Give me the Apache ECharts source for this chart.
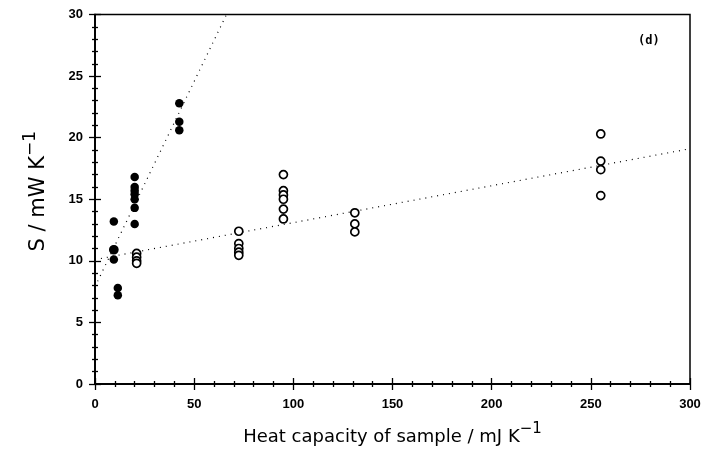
<!DOCTYPE html>
<html>
<head>
<meta charset="utf-8">
<script src="https://cdn.jsdelivr.net/npm/echarts@6/dist/echarts.min.js"></script>
<style>html,body{margin:0;padding:0;background:#fff}#c{width:705px;height:451px}</style>
</head>
<body>
<div id="c"></div>
<script>
// Closed circles
var filledX = [9.5, 9.5, 9.5, 11.5, 11.5, 20, 20, 20, 20, 20, 20, 20, 42.5, 42.5, 42.5];
var filledY = [13.2, 10.9, 10.1, 7.8, 7.2, 16.8, 16.0, 15.7, 15.4, 15.0, 14.3, 13.0, 22.8, 21.3, 20.6];
// Open circles
var openX = [9.5, 21, 21, 21, 21, 72.5, 72.5, 72.5, 72.5, 72.5, 95, 95, 95, 95, 95, 95, 131, 131, 131, 255, 255, 255, 255];
var openY = [10.9, 10.6, 10.3, 10.0, 9.8, 12.4, 11.4, 11.0, 10.7, 10.45, 17.0, 15.7, 15.35, 15.0, 14.2, 13.4, 13.9, 13.0, 12.35, 20.3, 18.1, 17.4, 15.3];
// Dotted fit lines (endpoints)
var fitFilledX = [0, 66.3];
var fitFilledY = [7.9, 30];
var fitOpenX = [0, 300];
var fitOpenY = [10.1, 19.1];
// Axis ticks
var xTicks = [0, 50, 100, 150, 200, 250, 300];
var yTicks = [0, 5, 10, 15, 20, 25, 30];

function zip(a, b) { return a.map(function (v, i) { return [v, b[i]]; }); }

var chart = echarts.init(document.getElementById('c'), null, {renderer: 'canvas'});
var lblFont = {color: '#000', fontFamily: 'Liberation Sans', fontWeight: 'bold', fontSize: 13};
function rich(sz, sup) {
  return {
    b: {fontFamily: 'DejaVu Sans', fontSize: sz, color: '#000', verticalAlign: 'bottom', lineHeight: sz + 6},
    s: {fontFamily: 'DejaVu Sans', fontSize: sup, color: '#000', verticalAlign: 'top', lineHeight: sz + 6}
  };
}
function xAxisDef(inside, show) {
  return {
    type: 'value', min: 0, max: 300, interval: 50, position: 'bottom',
    axisLine: {show: true, onZero: false, lineStyle: {color: '#000', width: 1.5}},
    axisTick: {show: true, inside: inside, length: 6, lineStyle: {color: '#000', width: 1.3}},
    minorTick: {show: true, splitNumber: 5, length: 3, lineStyle: {color: '#000', width: 1.3}},
    splitLine: {show: false},
    axisLabel: show ? Object.assign({margin: 14, formatter: function (v) { return xTicks.indexOf(v) >= 0 ? String(v) : ''; }}, lblFont) : {show: false},
    name: show ? '{b|Heat capacity of sample / mJ K}{s|\u22121}' : '',
    nameLocation: 'middle', nameGap: 38,
    nameTextStyle: {rich: rich(18, 15)}
  };
}
function yAxisDef(inside, show) {
  return {
    type: 'value', min: 0, max: 30, interval: 5, position: 'left',
    axisLine: {show: true, onZero: false, lineStyle: {color: '#000', width: 1.5}},
    axisTick: {show: true, inside: inside, length: 6, lineStyle: {color: '#000', width: 1.3}},
    minorTick: {show: true, splitNumber: 5, length: 3, lineStyle: {color: '#000', width: 1.3}},
    splitLine: {show: false},
    axisLabel: show ? Object.assign({margin: 12, formatter: function (v) { return yTicks.indexOf(v) >= 0 ? String(v) : ''; }}, lblFont) : {show: false},
    name: show ? '{b|S / mW K}{s|\u22121}' : '',
    nameLocation: 'middle', nameGap: 46, nameRotate: 90,
    nameTextStyle: {rich: rich(21, 17), padding: [0, 0, 0, 16]}
  };
}

chart.setOption({
  animation: false,
  backgroundColor: '#fff',
  grid: {left: 95, right: 15, top: 14.5, bottom: 65.5, show: true, borderColor: '#000', borderWidth: 1.5, backgroundColor: 'transparent'},
  xAxis: [xAxisDef(false, true), xAxisDef(true, false)],
  yAxis: [yAxisDef(false, true), yAxisDef(true, false)],
  series: [
    {type: 'line', data: zip(fitFilledX, fitFilledY), symbol: 'none', clip: true,
     lineStyle: {color: '#000', width: 1.2, type: [1, 5]}, z: 1},
    {type: 'line', data: zip(fitOpenX, fitOpenY), symbol: 'none', clip: true,
     lineStyle: {color: '#000', width: 1.2, type: [1, 5]}, z: 1},
    {type: 'scatter', data: zip(openX, openY), symbol: 'circle', symbolSize: 8,
     itemStyle: {color: '#fff', borderColor: '#000', borderWidth: 1.7, opacity: 1}, z: 3},
    {type: 'scatter', data: zip(filledX, filledY), symbol: 'circle', symbolSize: 8.5,
     itemStyle: {color: '#000', opacity: 1}, z: 4}
  ],
  graphic: [
    {type: 'text', left: 638, top: 35, style: {text: '(d)', fill: '#000', font: 'bold 12px "DejaVu Sans Mono"'}}
  ]
});
</script>
</body>
</html>
